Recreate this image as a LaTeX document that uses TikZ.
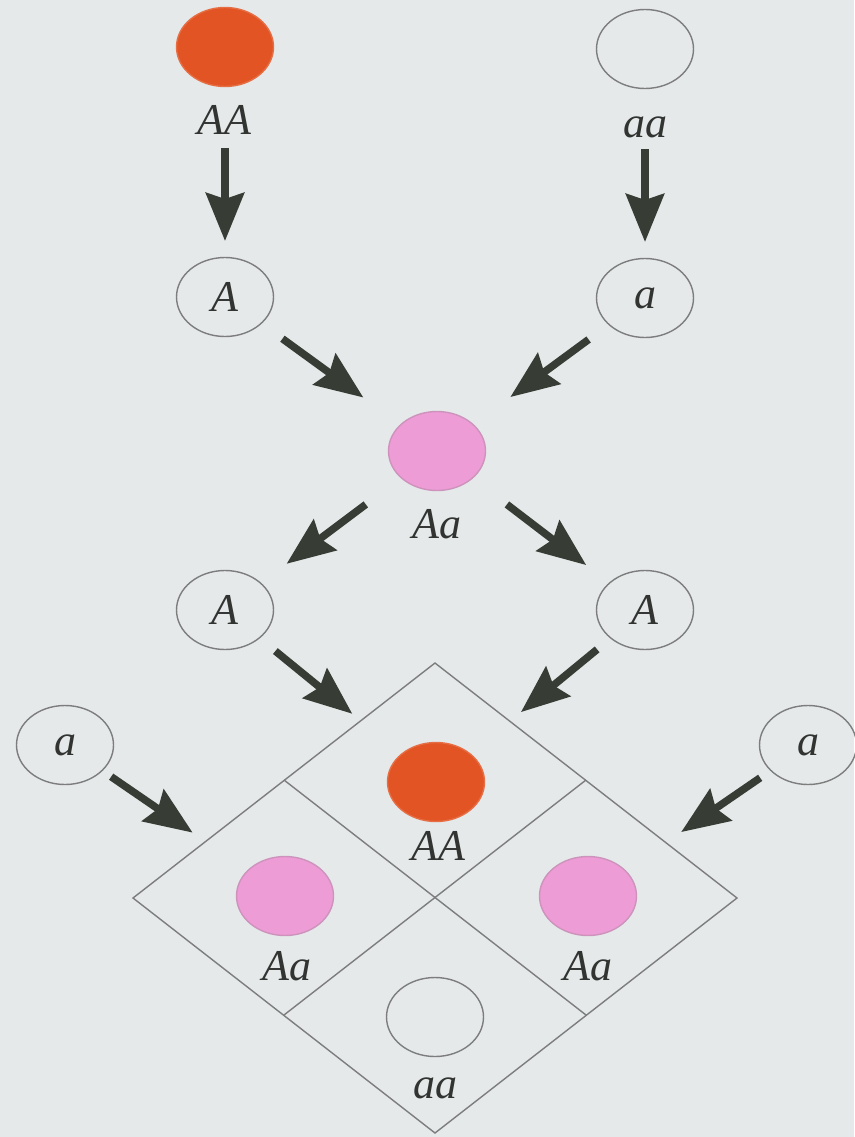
\documentclass[tikz,border=0pt]{standalone}
\usepackage{fontspec}
\setmainfont{Liberation Serif}
\usepackage{tikz}
\usetikzlibrary{arrows.meta, shapes.geometric}
\usepackage{xcolor}

\definecolor{bgcol}{RGB}{229,233,234}
\definecolor{homred}{RGB}{226,84,36}
\definecolor{hetpink}{RGB}{238,156,214}
\definecolor{edgegray}{RGB}{125,125,125}
\definecolor{arrowcol}{RGB}{55,60,52}
\definecolor{txtcol}{RGB}{50,52,50}

\begin{document}
\begin{tikzpicture}[x=1pt, y=-1pt,
    geno/.style={ellipse, draw=edgegray, line width=1.4pt, minimum width=97pt,
        minimum height=79pt, inner sep=0pt, text=txtcol,
        font=\fontsize{44}{48}\selectfont\itshape},
    homo/.style={geno, fill=homred, draw=homred!85!white},
    hetero/.style={geno, fill=hetpink, draw=hetpink!70!gray},
    lbl/.style={anchor=base, inner sep=0pt, text=txtcol,
        font=\fontsize{44}{48}\selectfont\itshape},
    arr/.style={arrowcol, line width=7.5pt,
        -{Stealth[length=48pt, width=38pt, inset=6pt]}}]

    % page background
    \fill[bgcol] (0,0) rectangle (854,1137);
    \useasboundingbox (0,0) rectangle (854,1137);

    % Parents
    \node[homo] (pAA) at (225,47) {};
    \node[lbl] (lpAA) at (224,135) {AA};
    \node[geno] (paa) at (645,49) {};
    \node[lbl] (lpaa) at (645,137) {aa};

    % Gametes of the parents
    \node[geno] (gA) at (225,297) {A};
    \node[geno] (ga) at (645,298) {a};

    % F1 hybrid
    \node[hetero] (fAa) at (437,451) {};
    \node[lbl] (lfAa) at (437,538) {Aa};

    % Gametes of the F1
    \node[geno] (fA1) at (225,610) {A};
    \node[geno] (fA2) at (645,610) {A};
    \node[geno] (fa1) at (65,745) {a};
    \node[geno] (fa2) at (808,745) {a};

    % Punnett square, turned on its corner
    \draw[edgegray, line width=1.4pt]
        (435,663) -- (737,898) -- (435,1133) -- (133,898) -- cycle;
    \draw[edgegray, line width=1.4pt] (284,780) -- (586,1015);
    \draw[edgegray, line width=1.4pt] (586,780) -- (284,1015);

    % F2 offspring
    \node[homo] (sAA) at (436,782) {};
    \node[lbl] (lsAA) at (438,860) {AA};
    \node[hetero] (sAa1) at (285,896) {};
    \node[lbl] (lsAa1) at (287,980) {Aa};
    \node[hetero] (sAa2) at (588,896) {};
    \node[lbl] (lsAa2) at (588,980) {Aa};
    \node[geno] (saa) at (435,1017) {};
    \node[lbl] (lsaa) at (435,1098) {aa};

    % Arrows
    \draw[arr, shorten <=101pt, shorten >=56pt] (pAA.center) -- (gA.center);
    \draw[arr, shorten <=100pt, shorten >=56pt] (paa.center) -- (ga.center);
    \draw[arr, shorten <=71pt, shorten >=91pt] (gA.center) -- (fAa.center);
    \draw[arr, shorten <=70pt, shorten >=91pt] (ga.center) -- (fAa.center);
    \draw[arr, shorten <=89pt, shorten >=77pt] (fAa.center) -- (fA1.center);
    \draw[arr, shorten <=88pt, shorten >=74pt] (fAa.center) -- (fA2.center);
    \draw[arr, shorten <=65pt, shorten >=108pt] (fA1.center) -- (sAA.center);
    \draw[arr, shorten <=62pt, shorten >=110pt] (fA2.center) -- (sAA.center);
    \draw[arr, shorten <=56pt, shorten >=112pt] (fa1.center) -- (sAa1.center);
    \draw[arr, shorten <=58pt, shorten >=113pt] (fa2.center) -- (sAa2.center);
\end{tikzpicture}
\end{document}
